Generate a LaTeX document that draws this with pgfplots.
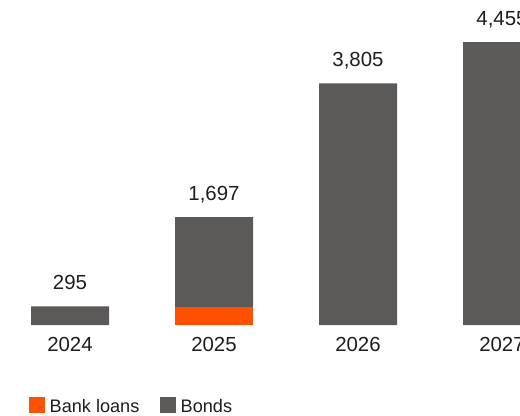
\documentclass[border=0pt]{standalone}
\usepackage{pgfplots}
\pgfplotsset{compat=1.18}
\usepackage{fontspec}
\setmainfont{Liberation Sans}
\definecolor{bankorange}{RGB}{255,80,0}
\definecolor{bondgray}{RGB}{92,89,89}
\definecolor{txtc}{RGB}{30,30,30}
\tikzset{vallab/.style={anchor=base, inner sep=0pt, font=\fontsize{15.3pt}{18pt}\selectfont, text=txtc, yshift=12.75pt}}
\begin{document}
\begin{tikzpicture}
\path[use as bounding box] (0,0) rectangle (390pt,311.25pt);
\clip (0,0) rectangle (390pt,311.25pt);
\begin{axis}[
  at={(-1.5pt,67.5pt)}, anchor=south west,
  scale only axis, width=432pt, height=242.89pt,
  xmin=-0.5, xmax=3.5, ymin=0, ymax=5100,
  ybar stacked, bar width=58.5pt,
  axis line style={draw=none}, tick style={draw=none},
  ytick=\empty,
  xtick={0,1,2,3}, xticklabels={2024,2025,2026,2027},
  xticklabel style={font=\fontsize{15.3pt}{18pt}\selectfont, text=txtc, anchor=base, inner sep=0pt, yshift=-19.5pt},
  clip=false,
  legend columns=2,
  legend style={draw=none, fill=none, inner sep=0pt, outer sep=0pt,
    at={(0.05382,-0.2532)}, anchor=west,
    font=\fontsize{13.6pt}{16pt}\selectfont, text=txtc,
    /tikz/every even column/.append style={column sep=13.5pt}},
  legend image code/.code={\fill[#1] (0pt,-4pt) rectangle (12pt,8pt); \path (13.5pt,0pt);},
]
\addplot[fill=bankorange, draw=none] coordinates {(0,0) (1,280) (2,0) (3,0)};
\addlegendentry{Bank loans}
\addplot[fill=bondgray, draw=none] coordinates {(0,295) (1,1417) (2,3805) (3,4455)};
\addlegendentry{Bonds}
\node[vallab] at (axis cs:0,295) {295};
\node[vallab] at (axis cs:1,1697) {1,697};
\node[vallab] at (axis cs:2,3805) {3,805};
\node[vallab] at (axis cs:3,4455) {4,455};
\end{axis}
\end{tikzpicture}
\end{document}
